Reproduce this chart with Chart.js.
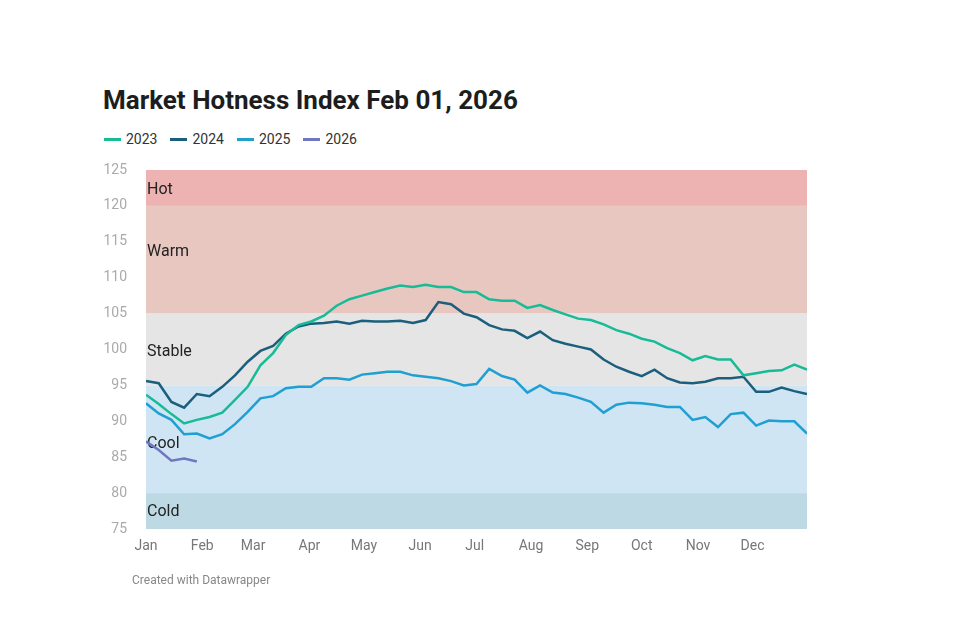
<!DOCTYPE html>
<html>
<head>
<meta charset="utf-8">
<script src="https://cdn.jsdelivr.net/npm/chart.js@4"></script>
<style>
  body { margin: 0; background: #fff; font-family: Roboto, sans-serif; }
  #wrap { position: relative; width: 960px; height: 640px; }
  #title { position: absolute; left: 103px; top: 85px; font-size: 26px; font-weight: 700; color: #1d1d1d; white-space: nowrap; }
  #legend { position: absolute; left: 104px; top: 131px; font-size: 14px; color: #333; display: flex; }
  #legend span.item { display: flex; align-items: center; margin-right: 13px; }
  #legend span.sw { display: inline-block; width: 17px; height: 3px; margin-right: 5px; }
  #footer { position: absolute; left: 132px; top: 573px; font-size: 12px; color: #888; }
  canvas { position: absolute; left: 0; top: 0; }
</style>
</head>
<body>
<div id="wrap">
  <div id="title">Market Hotness Index Feb 01, 2026</div>
  <div id="legend"></div>
  <canvas id="chart" width="960" height="640"></canvas>
  <div id="footer">Created with Datawrapper</div>
</div>
<script>
// weekly readings, one per week starting Jan 1
const seriesNames = ["2023", "2024", "2025", "2026"];
const seriesColors = ["#17bb96", "#1b5f7c", "#1f9fd2", "#7077c2"];

const values2023 = [93.7, 92.4, 91.0, 89.7, 90.2, 90.6, 91.2, 93.0, 94.8, 97.8,
  99.5, 102.0, 103.4, 103.9, 104.7, 106.1, 107.0, 107.5, 108.0, 108.5,
  108.9, 108.7, 109.0, 108.7, 108.7, 108.0, 108.0, 107.0, 106.8, 106.8,
  105.8, 106.2, 105.5, 104.9, 104.3, 104.1, 103.5, 102.7, 102.2, 101.5,
  101.1, 100.2, 99.5, 98.5, 99.1, 98.6, 98.6, 96.4, 96.7, 97.0,
  97.1, 97.9, 97.2];
const values2024 = [95.6, 95.3, 92.7, 91.9, 93.8, 93.5, 94.8, 96.4, 98.3, 99.8,
  100.5, 102.2, 103.2, 103.6, 103.7, 103.9, 103.6, 104.0, 103.9, 103.9,
  104.0, 103.7, 104.1, 106.6, 106.3, 105.0, 104.5, 103.4, 102.8, 102.6,
  101.6, 102.5, 101.3, 100.8, 100.4, 100.0, 98.6, 97.6, 96.9, 96.3,
  97.2, 96.0, 95.4, 95.3, 95.5, 96.0, 96.0, 96.2, 94.1, 94.1,
  94.7, 94.2, 93.8];
const values2025 = [92.5, 91.1, 90.2, 88.2, 88.3, 87.6, 88.2, 89.6, 91.3, 93.2,
  93.5, 94.6, 94.8, 94.8, 96.0, 96.0, 95.8, 96.5, 96.7, 96.9,
  96.9, 96.4, 96.2, 96.0, 95.6, 95.0, 95.2, 97.3, 96.3, 95.8,
  94.0, 95.0, 94.0, 93.8, 93.3, 92.7, 91.2, 92.3, 92.6, 92.5,
  92.3, 92.0, 92.0, 90.2, 90.6, 89.2, 91.0, 91.2, 89.4, 90.1,
  90.0, 90.0, 88.3];
const values2026 = [87.2, 86.0, 84.5, 84.8, 84.4];
const allValues = [values2023, values2024, values2025, values2026];

const monthNames = ["Jan", "Feb", "Mar", "Apr", "May", "Jun", "Jul", "Aug", "Sep", "Oct", "Nov", "Dec"];
const monthStartDays = [0, 31, 59, 90, 120, 151, 181, 212, 243, 273, 304, 334];

const bandNames = ["Hot", "Warm", "Stable", "Cool", "Cold"];
const bandFrom = [120, 105, 95, 80, 75];
const bandTo = [125, 120, 105, 95, 80];
const bandLabelAt = [122.2, 113.6, 99.6, 86.9, 77.3];
const bandColors = ["#ecb3b2", "#e9c7c1", "#e5e5e5", "#cfe5f3", "#bdd9e3"];

const yTicks = [75, 80, 85, 90, 95, 100, 105, 110, 115, 120, 125];

// html legend
const legend = document.getElementById("legend");
seriesNames.forEach((name, i) => {
  const item = document.createElement("span");
  item.className = "item";
  item.innerHTML = '<span class="sw" style="background:' + seriesColors[i] + '"></span>' + name;
  legend.appendChild(item);
});

const bandsPlugin = {
  id: "bands",
  beforeDatasetsDraw(chart) {
    const { ctx, chartArea, scales } = chart;
    ctx.save();
    bandNames.forEach((name, i) => {
      const top = scales.y.getPixelForValue(bandTo[i]);
      const bottom = scales.y.getPixelForValue(bandFrom[i]);
      ctx.fillStyle = bandColors[i];
      ctx.fillRect(chartArea.left, top, chartArea.right - chartArea.left, bottom - top);
    });
    ctx.font = "16px Roboto";
    ctx.fillStyle = "#222";
    ctx.textBaseline = "middle";
    bandNames.forEach((name, i) => {
      ctx.fillText(name, chartArea.left + 1, scales.y.getPixelForValue(bandLabelAt[i]));
    });
    ctx.restore();
  }
};

new Chart("chart", {
  type: "line",
  data: {
    datasets: seriesNames.map((name, i) => ({
      label: name,
      data: allValues[i].map((v, w) => ({ x: w * 7, y: v })),
      borderColor: seriesColors[i],
      borderWidth: 2.5,
      pointRadius: 0,
      tension: 0,
      fill: false
    }))
  },
  options: {
    responsive: false,
    animation: false,
    layout: { padding: { left: 70, right: 153, top: 170, bottom: 81 } },
    plugins: {
      legend: { display: false },
      title: { display: false },
      tooltip: { enabled: false }
    },
    scales: {
      x: {
        type: "linear",
        min: 0,
        max: 364,
        grid: { display: false, drawTicks: false },
        border: { display: false },
        afterBuildTicks: s => { s.ticks = monthStartDays.map(v => ({ value: v })); },
        afterFit: s => { s.height = 30; },
        ticks: {
          padding: 9,
          maxRotation: 0,
          autoSkip: false,
          color: "#777",
          font: { family: "Roboto", size: 14 },
          callback: (v) => monthNames[monthStartDays.indexOf(v)]
        }
      },
      y: {
        min: 75,
        max: 125,
        grid: { display: false, drawTicks: false },
        border: { display: false },
        afterBuildTicks: s => { s.ticks = yTicks.map(v => ({ value: v })); },
        afterFit: s => { s.width = 76; },
        ticks: {
          padding: 19,
          color: "#aaa",
          font: { family: "Roboto", size: 14 }
        }
      }
    }
  },
  plugins: [bandsPlugin]
});
</script>
</body>
</html>
